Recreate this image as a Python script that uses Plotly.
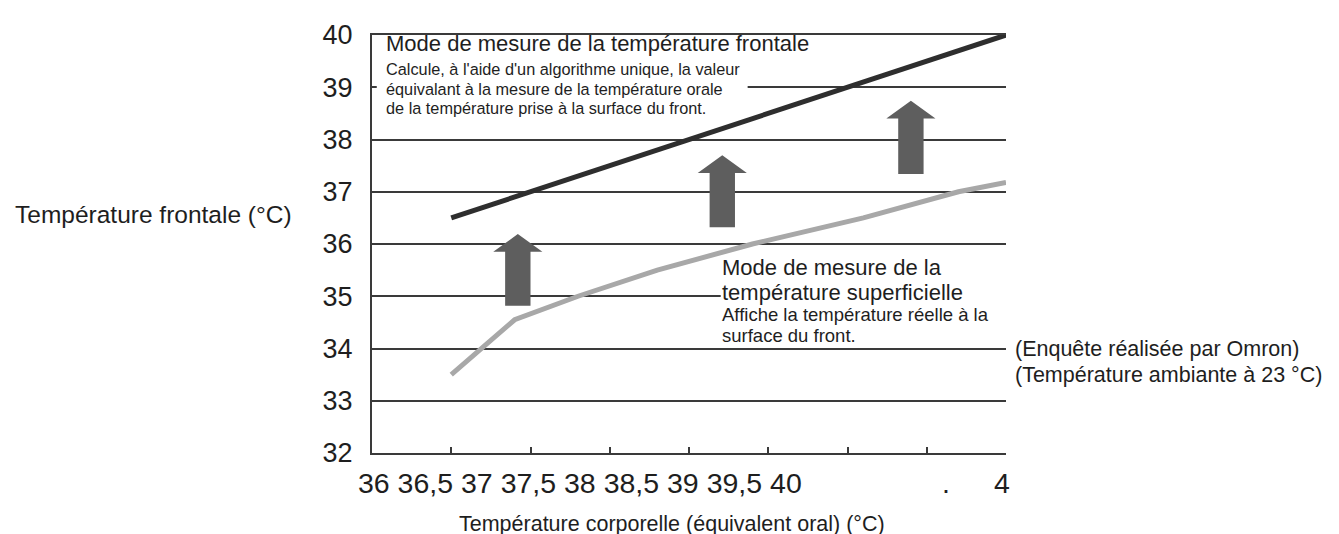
import plotly.graph_objects as go

# frontal mode: reading equals the oral-equivalent temperature
frontal_x = [36.5, 40.0]
frontal_y = [36.5, 40.0]

# surface mode: raw skin temperature of the forehead
surface_x = [36.5, 36.9, 37.3, 37.8, 38.4, 39.1, 39.7, 40.0]
surface_y = [33.5, 34.55, 35.0, 35.5, 36.0, 36.5, 37.0, 37.18]

# the three grey arrows (x, base, tip)
arrow_x = [36.92, 38.21, 39.40]
arrow_base = [34.82, 36.32, 37.34]
arrow_tip = [36.19, 37.70, 38.74]

y_ticks = [32, 33, 34, 35, 36, 37, 38, 39, 40]
x_ticks = [36, 36.5, 37, 37.5, 38, 38.5, 39, 39.5, 40]
x_tick_labels = ["36", "36,5", "37", "37,5", "38", "38,5", "39", "39,5", "40"]
stray_labels = [".", "4"]

frontal_title = "Mode de mesure de la température frontale"
frontal_notes = [
    "Calcule, à l'aide d'un algorithme unique, la valeur",
    "équivalant à la mesure de la température orale",
    "de la température prise à la surface du front.",
]
surface_title = ["Mode de mesure de la", "température superficielle"]
surface_notes = ["Affiche la température réelle à la", "surface du front."]
side_notes = ["(Enquête réalisée par Omron)", "(Température ambiante à 23 °C)"]
x_title = "Température corporelle (équivalent oral) (°C)"
y_title = "Température frontale (°C)"

W, H = 1339, 534
L, T, PW, PH = 364, 23, 634, 422
FONT = "Liberation Sans, Arial, sans-serif"
INK = "#1e1e1e"
GRID = "#3a3a3a"


def px(xp):
    return (xp - L) / PW


def py(yp):
    return 1 - (yp - T) / PH


fig = go.Figure()

fig.add_trace(go.Scatter(x=surface_x, y=surface_y, mode="lines",
                         line=dict(color="#a8a8a8", width=5), hoverinfo="skip"))
fig.add_trace(go.Scatter(x=frontal_x, y=frontal_y, mode="lines",
                         line=dict(color="#2e2e2e", width=5), hoverinfo="skip"))

shaft, head, head_h = 0.08, 0.155, 0.34
for ax, b, t in zip(arrow_x, arrow_base, arrow_tip):
    xs = [ax - shaft, ax - shaft, ax - head, ax, ax + head, ax + shaft, ax + shaft, ax - shaft]
    ys = [b, t - head_h, t - head_h, t, t - head_h, t - head_h, b, b]
    fig.add_trace(go.Scatter(x=xs, y=ys, mode="lines", fill="toself",
                             fillcolor="#5e5e5e", line=dict(width=0),
                             hoverinfo="skip"))

# white patches hiding gridlines behind the text blocks
fig.add_shape(type="rect", x0=36.03, x1=38.37, y0=38.35, y1=39.62,
              fillcolor="white", line_width=0, layer="between")
fig.add_shape(type="rect", x0=38.2, x1=40.05, y0=34.45, y1=35.5,
              fillcolor="white", line_width=0, layer="between")


def note(text, x, y, size, xref="x", yref="y", xanchor="left"):
    fig.add_annotation(text=text, x=x, y=y, xref=xref, yref=yref,
                       xanchor=xanchor, yanchor="middle", showarrow=False,
                       borderpad=0, align="left",
                       font=dict(family=FONT, size=size, color=INK))


note(frontal_title, 36.08, 39.84, 22)
for i, line in enumerate(frontal_notes):
    note(line, 36.08, 39.34 - i * 0.37, 16.3)

for i, line in enumerate(surface_title):
    note(line, 38.2, 35.55 - i * 0.47, 22)
for i, line in enumerate(surface_notes):
    note(line, 38.2, 34.65 - i * 0.395, 18.5)

note(side_notes[0], px(1006), py(340), 21.5, "paper", "paper")
note(side_notes[1], px(1006), py(366), 21.5, "paper", "paper")
note(y_title, px(6), py(204), 24.5, "paper", "paper")
note(x_title, px(664), py(517), 21.5, "paper", "paper", "center")

# x tick labels sit squeezed together to the left, as in the original
note(" ".join(x_tick_labels), px(349), py(475), 28.5, "paper", "paper")
note(stray_labels[0], px(938), py(475), 28.5, "paper", "paper", "center")
note(stray_labels[1], px(994), py(475), 28.5, "paper", "paper", "center")

fig.update_xaxes(range=[36, 40], tickvals=x_ticks, showticklabels=False,
                 ticks="inside", ticklen=6, tickwidth=1.5, tickcolor=GRID,
                 showline=True, mirror=True, linecolor=GRID, linewidth=2,
                 showgrid=False, zeroline=False)
fig.update_yaxes(range=[32, 40], tickvals=y_ticks, ticks="",
                 showgrid=True, gridcolor=GRID, gridwidth=1.6,
                 showline=True, linecolor=GRID, linewidth=2, zeroline=False,
                 ticklabelstandoff=12,
                 tickfont=dict(family=FONT, size=27, color=INK))

fig.update_layout(
    width=W, height=H,
    margin=dict(l=L, r=W - L - PW, t=T, b=H - T - PH),
    paper_bgcolor="white", plot_bgcolor="white",
    showlegend=False,
)

fig.write_html("out.html")
